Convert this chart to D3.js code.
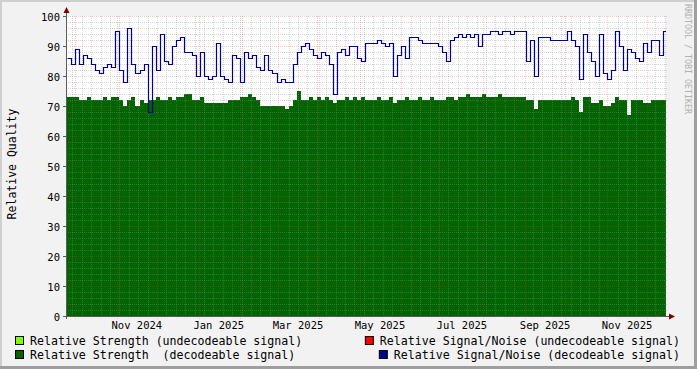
<!DOCTYPE html>
<html>
<head>
<meta charset="utf-8">
<script src="https://cdn.jsdelivr.net/npm/d3@7/dist/d3.min.js"></script>
<style>
  body { margin: 0; background: #f2f2f2; }
  text { font-family: "DejaVu Sans Mono", monospace; fill: #000; }
</style>
</head>
<body>
<svg id="chart"></svg>
<script>
// time range of the graph and sample spacing
const startDate = new Date(2024, 8, 25);
const endDate = new Date(2025, 11, 15);
const stepDays = 3;

// Relative Signal/Noise (decodeable signal), one value per 3 days
const signalNoise = [
  86, 84, 89, 84, 87, 86, 84, 82, 81, 83,
  84, 83, 95, 82, 78, 96, 84, 81, 82, 84,
  68, 90, 82, 94, 85, 84, 90, 92, 93, 88,
  88, 87, 80, 88, 80, 79, 80, 91, 80, 79,
  78, 87, 86, 78, 88, 86, 87, 83, 82, 87,
  82, 81, 78, 79, 78, 78, 84, 88, 90, 91,
  89, 87, 86, 88, 87, 84, 74, 88, 89, 87,
  90, 90, 86, 85, 91, 91, 91, 92, 91, 90,
  91, 80, 87, 90, 86, 93, 93, 92, 91, 91,
  91, 91, 90, 88, 85, 92, 93, 94, 93, 94,
  93, 94, 90, 94, 94, 95, 95, 94, 95, 95,
  94, 95, 95, 95, 85, 92, 80, 93, 93, 93,
  92, 92, 92, 92, 95, 92, 90, 79, 94, 88,
  85, 80, 94, 81, 79, 82, 95, 90, 82, 89,
  88, 86, 85, 91, 88, 92, 92, 87, 95
];

// Relative Strength (decodeable signal), same sampling
const strength = [
  73, 73, 73, 72, 72, 73, 72, 72, 72, 73,
  72, 73, 73, 72, 70, 72, 73, 70, 72, 71,
  72, 72, 73, 72, 72, 73, 72, 73, 73, 74,
  74, 72, 72, 73, 71, 71, 71, 71, 71, 71,
  72, 72, 72, 73, 73, 74, 73, 72, 70, 70,
  70, 70, 70, 70, 69, 70, 72, 75, 72, 72,
  73, 72, 73, 72, 73, 72, 71, 72, 72, 73,
  72, 73, 72, 73, 72, 72, 72, 73, 72, 72,
  73, 71, 72, 72, 73, 72, 72, 73, 72, 72,
  73, 72, 72, 72, 73, 73, 72, 73, 73, 74,
  73, 73, 73, 74, 73, 73, 73, 74, 73, 73,
  73, 73, 73, 73, 72, 72, 69, 72, 72, 72,
  72, 72, 72, 72, 72, 73, 72, 68, 73, 73,
  71, 71, 72, 70, 70, 71, 73, 72, 72, 67,
  72, 72, 72, 71, 71, 72, 72, 72, 72
];

const yTicks = [0, 10, 20, 30, 40, 50, 60, 70, 80, 90, 100];
const xLabelMonths = ["2024-11", "2025-01", "2025-03", "2025-05", "2025-07", "2025-09", "2025-11"];

const legendItems = [
  { label: "Relative Strength (undecodeable signal)", color: "#80ff00", col: 0, row: 0 },
  { label: "Relative Signal/Noise (undecodeable signal)", color: "#ff0000", col: 1, row: 0 },
  { label: "Relative Strength  (decodeable signal)", color: "#006400", col: 0, row: 1 },
  { label: "Relative Signal/Noise (decodeable signal)", color: "#000090", col: 1, row: 1 }
];

const W = 697, H = 369;
const plot = { left: 67, right: 666, top: 16, bottom: 316 };

const svg = d3.select("#chart").attr("width", W).attr("height", H);
const defs = svg.append("defs");

// dotted patterns, 1px dot every 2px, fixed to page pixels
function dotPattern(id, color, vertical) {
  const p = defs.append("pattern").attr("id", id)
    .attr("patternUnits", "userSpaceOnUse")
    .attr("width", vertical ? 1 : 2).attr("height", vertical ? 2 : 1);
  p.append("rect").attr("width", 1).attr("height", 1).attr("fill", color);
}
const minorCol = "rgba(140,140,140,0.38)";
const majorCol = "rgba(220,60,60,0.28)";
dotPattern("vmin", minorCol, true);
dotPattern("vmaj", majorCol, true);
dotPattern("hmin", minorCol, false);
dotPattern("hmaj", majorCol, false);

// background and 3d border
svg.append("rect").attr("width", W).attr("height", H).attr("fill", "#f2f2f2");
svg.append("rect").attr("x", 0).attr("y", 0).attr("width", W).attr("height", 2).attr("fill", "#cfcfcf");
svg.append("rect").attr("x", 0).attr("y", 0).attr("width", 2).attr("height", H).attr("fill", "#cfcfcf");
svg.append("rect").attr("x", 0).attr("y", H - 3).attr("width", W).attr("height", 3).attr("fill", "#9e9e9e");
svg.append("rect").attr("x", W - 3).attr("y", 0).attr("width", 3).attr("height", H).attr("fill", "#9e9e9e");

// canvas
svg.append("rect")
  .attr("x", plot.left).attr("y", plot.top)
  .attr("width", plot.right - plot.left).attr("height", plot.bottom - plot.top)
  .attr("fill", "#ffffff");

const x = d3.scaleTime().domain([startDate, endDate]).range([plot.left, plot.right]);
const y = d3.scaleLinear().domain([0, 100]).range([plot.bottom, plot.top]);

// build samples, last one repeated at the end of the range so the step reaches the edge
const toSeries = vals => {
  const pts = vals.map((v, i) => ({ date: d3.timeDay.offset(startDate, i * stepDays), value: v }));
  pts.push({ date: endDate, value: vals[vals.length - 1] });
  return pts;
};
const snData = toSeries(signalNoise);
const stData = toSeries(strength);

defs.append("clipPath").attr("id", "plotclip")
  .append("rect")
  .attr("x", plot.left).attr("y", plot.top)
  .attr("width", plot.right - plot.left).attr("height", plot.bottom - plot.top);

// strength area
const area = d3.area()
  .curve(d3.curveStepAfter)
  .x(d => Math.round(x(d.date)))
  .y0(y(0))
  .y1(d => Math.round(y(d.value)));

svg.append("g").attr("clip-path", "url(#plotclip)")
  .append("path")
  .datum(stData)
  .attr("d", area)
  .attr("fill", "#006400")
  .attr("shape-rendering", "crispEdges");

// grid over the area
const grid = svg.append("g").attr("shape-rendering", "crispEdges");

const months = d3.timeMonth.range(startDate, endDate);
const monthPx = months.map(d => Math.round(x(d)));
const weeks = d3.timeSunday.range(startDate, endDate)
  .filter(d => monthPx.every(m => Math.abs(m - Math.round(x(d))) > 1));

grid.selectAll(".vminor").data(weeks).enter().append("rect")
  .attr("x", d => Math.round(x(d))).attr("y", plot.top)
  .attr("width", 1).attr("height", plot.bottom - plot.top + 2)
  .attr("fill", "url(#vmin)");

grid.selectAll(".vmajor").data(months).enter().append("rect")
  .attr("x", d => Math.round(x(d))).attr("y", plot.top)
  .attr("width", 1).attr("height", plot.bottom - plot.top + 3)
  .attr("fill", "url(#vmaj)");

const minorY = d3.range(2, 100, 2).filter(v => v % 10 !== 0);
grid.selectAll(".hminor").data(minorY).enter().append("rect")
  .attr("x", plot.left - 2).attr("y", d => Math.round(y(d)))
  .attr("width", plot.right - plot.left + 4).attr("height", 1)
  .attr("fill", "url(#hmin)");

grid.selectAll(".hmajor").data(yTicks.filter(v => v > 0)).enter().append("rect")
  .attr("x", plot.left - 2).attr("y", d => Math.round(y(d)))
  .attr("width", plot.right - plot.left + 4).attr("height", 1)
  .attr("fill", "url(#hmaj)");

// signal / noise line
const line = d3.line()
  .curve(d3.curveStepAfter)
  .x(d => Math.round(x(d.date)) + 0.5)
  .y(d => Math.round(y(d.value)) + 0.5);

svg.append("g").attr("clip-path", "url(#plotclip)")
  .append("path")
  .datum(snData)
  .attr("d", line)
  .attr("fill", "none")
  .attr("stroke", "#000090")
  .attr("stroke-width", 1.2);

// axes
const axisCol = "#5a5a5a";
svg.append("line")
  .attr("x1", plot.left - 0.5).attr("x2", plot.left - 0.5)
  .attr("y1", 10).attr("y2", plot.bottom + 3)
  .attr("stroke", axisCol);
svg.append("line")
  .attr("x1", plot.left - 4).attr("x2", plot.right + 4)
  .attr("y1", plot.bottom + 0.5).attr("y2", plot.bottom + 0.5)
  .attr("stroke", axisCol);
svg.selectAll(".ytick").data(yTicks).enter().append("line")
  .attr("x1", plot.left - 4).attr("x2", plot.left)
  .attr("y1", d => y(d) + 0.5).attr("y2", d => y(d) + 0.5)
  .attr("stroke", axisCol);

// arrows
svg.append("path")
  .attr("d", `M${plot.left - 3.5},13 L${plot.left + 2.5},13 L${plot.left - 0.5},7 Z`)
  .attr("fill", "#7f0000");
svg.append("path")
  .attr("d", `M${plot.right + 3},${plot.bottom - 2.5} L${plot.right + 3},${plot.bottom + 3.5} L${plot.right + 9},${plot.bottom + 0.5} Z`)
  .attr("fill", "#7f0000");

// y tick labels
svg.selectAll(".ylabel").data(yTicks).enter().append("text")
  .attr("x", 60).attr("y", d => y(d) + 0.5)
  .attr("text-anchor", "end")
  .attr("dominant-baseline", "central")
  .style("font-size", "10.5px")
  .text(d => d);

// x labels centred in the middle of the month
const parseMonth = d3.timeParse("%Y-%m");
const fmt = d3.timeFormat("%b %Y");
svg.selectAll(".xlabel").data(xLabelMonths.map(parseMonth)).enter().append("text")
  .attr("x", d => x(d3.timeDay.offset(d, 15)))
  .attr("y", 325)
  .attr("text-anchor", "middle")
  .attr("dominant-baseline", "central")
  .style("font-size", "10.5px")
  .text(d => fmt(d));

// y axis title
svg.append("text")
  .attr("transform", `translate(12,${(plot.top + plot.bottom) / 2 - 2}) rotate(-90)`)
  .attr("text-anchor", "middle")
  .attr("dominant-baseline", "central")
  .style("font-size", "11.5px")
  .text("Relative Quality");

// watermark
svg.append("text")
  .attr("transform", "translate(688,59) rotate(90)")
  .attr("text-anchor", "middle")
  .attr("dominant-baseline", "central")
  .style("font-size", "8.3px")
  .style("fill", "#b0b0b0")
  .text("RRDTOOL / TOBI OETIKER");

// legend
const legendRows = [341, 355];
const leg = svg.selectAll(".leg").data(legendItems).enter().append("g");
leg.each(function (d) {
  const el = d3.select(this);
  const t = el.append("text")
    .attr("y", legendRows[d.row])
    .attr("dominant-baseline", "central")
    .style("font-size", "11.6px")
    .style("white-space", "pre")
    .attr("xml:space", "preserve")
    .text(d.label);
  let tx;
  if (d.col === 0) {
    tx = 30;
  } else {
    const w = t.node().getComputedTextLength();
    tx = 680 - w;
  }
  t.attr("x", tx);
  el.append("rect")
    .attr("x", tx - 14.5).attr("y", legendRows[d.row] - 4.5)
    .attr("width", 8).attr("height", 8)
    .attr("fill", d.color)
    .attr("stroke", "#000").attr("stroke-width", 1);
});
</script>
</body>
</html>
